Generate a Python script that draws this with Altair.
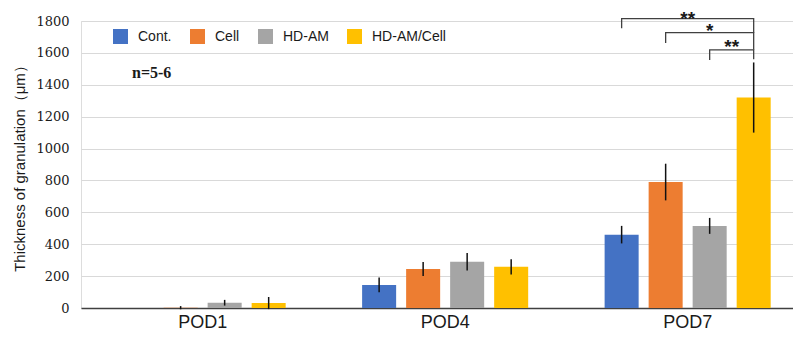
import altair as alt
import pandas as pd

pods = ["POD1", "POD4", "POD7"]
groups = ["Cont.", "Cell", "HD-AM", "HD-AM/Cell"]
colors = ["#4472C4", "#ED7D31", "#A5A5A5", "#FFC000"]

means_cont = [0, 145, 460]
means_cell = [2, 245, 790]
means_hdam = [33, 290, 515]
means_hdamcell = [31, 258, 1320]

err_cont = [0, 47, 55]
err_cell = [10, 44, 115]
err_hdam = [18, 55, 50]
err_hdamcell = [38, 48, 220]

y_ticks = [0, 200, 400, 600, 800, 1000, 1200, 1400, 1600, 1800]

# significance brackets (POD7), all ending at HD-AM/Cell
br_from = ["Cont.", "Cell", "HD-AM"]
br_to = "HD-AM/Cell"
br_top = [1815, 1727, 1619]
br_left_bottom = [1755, 1662, 1556]
br_right_bottom = [1727, 1619, 1560]
star_labels = ["**", "*", "**"]
star_y = [1775, 1700, 1600]

rows = []
for g, m, e in zip(groups, [means_cont, means_cell, means_hdam, means_hdamcell],
                   [err_cont, err_cell, err_hdam, err_hdamcell]):
    for p, mv, ev in zip(pods, m, e):
        rows.append({"pod": p, "group": g, "mean": mv, "lo": mv - ev, "hi": mv + ev})
df = pd.DataFrame(rows)

brows = []
for i, (g, t, lb, rb) in enumerate(zip(br_from, br_top, br_left_bottom, br_right_bottom)):
    brows += [
        {"id": i, "pod": "POD7", "group": g, "y": lb, "o": 0},
        {"id": i, "pod": "POD7", "group": g, "y": t, "o": 1},
        {"id": i, "pod": "POD7", "group": br_to, "y": t, "o": 2},
        {"id": i, "pod": "POD7", "group": br_to, "y": rb, "o": 3},
    ]
bdf = pd.DataFrame(brows)

xscale = alt.Scale(domain=pods, paddingInner=0.274, paddingOuter=0.105, align=0.66)
oscale = alt.Scale(domain=groups, paddingInner=0.227, paddingOuter=0.1135)
yscale = alt.Scale(domain=[0, 1800], nice=False)

X = alt.X("pod:N", scale=xscale, title=None,
          axis=alt.Axis(labelAngle=0, ticks=False, labelFontSize=18, labelPadding=5,
                        labelFont="Liberation Sans", labelColor="#1a1a1a",
                        domainColor="#404040", domainWidth=1.3, grid=False))
XO = alt.XOffset("group:N", scale=oscale, sort=groups)

ytitle = "Thickness of granulation（μm）"
yaxis = alt.Axis(values=y_ticks, ticks=False, domain=False,
                 labelOverlap=False, format="d",
                 gridColor="#D9D9D9", gridWidth=1.2, labelFont="DejaVu Serif",
                 labelFontSize=13, labelPadding=12, labelColor="#1a1a1a",
                 titleFont="Liberation Sans", titleFontSize=15, titleFontWeight="normal",
                 titleColor="#1a1a1a", titlePadding=8)


def Y(f):
    return alt.Y(f, scale=yscale, title=ytitle, axis=yaxis)


bars = alt.Chart(df).mark_bar().encode(
    x=X, xOffset=XO, y=Y("mean:Q"),
    color=alt.Color("group:N", scale=alt.Scale(domain=groups, range=colors), sort=groups,
                    legend=alt.Legend(title=None, orient="none", direction="horizontal",
                                      legendX=32, legendY=8, symbolType="square",
                                      symbolSize=225, symbolStrokeWidth=0, symbolOpacity=1,
                                      labelFont="Liberation Sans", labelFontSize=14,
                                      labelColor="#1a1a1a", labelOffset=10,
                                      columnPadding=18, padding=0)),
)

errbars = alt.Chart(df).mark_rule(color="#111111", strokeWidth=1.5).encode(
    x=X, xOffset=XO, y=Y("lo:Q"), y2="hi:Q"
)

brackets = alt.Chart(bdf).mark_line(color="#404040", strokeWidth=1.3).encode(
    x=X, xOffset=XO, y=Y("y:Q"), detail="id:N", order="o:Q"
)

sdf = pd.DataFrame({"pod": ["POD7"] * 3, "label": star_labels, "y": star_y,
                    "group": ["HD-AM", "HD-AM", "HD-AM/Cell"], "k": [0, 1, 2]})
star_font = dict(font="Liberation Sans", fontSize=19, fontWeight="bold", color="#1a1a1a",
                 baseline="alphabetic", align="center")
star1 = alt.Chart(sdf[sdf.k == 0]).mark_text(**star_font).encode(
    x=X, y=Y("y:Q"), text="label:N")
star2 = alt.Chart(sdf[sdf.k == 1]).mark_text(**star_font).encode(
    x=X, xOffset=XO, y=Y("y:Q"), text="label:N")
star3 = alt.Chart(sdf[sdf.k == 2]).mark_text(dx=-22, **star_font).encode(
    x=X, xOffset=XO, y=Y("y:Q"), text="label:N")

note = alt.Chart(pd.DataFrame({"t": ["n=5-6"]})).mark_text(
    font="Liberation Serif", fontSize=16, fontWeight="bold", color="#1a1a1a",
    align="left", baseline="middle").encode(x=alt.value(51), y=alt.value(52), text="t:N")

chart = alt.layer(bars, errbars, brackets, star1, star2, star3, note).properties(
    width=712, height=287,
    autosize=alt.AutoSizeParams(type="none"),
    padding={"left": 73, "top": 13, "right": 0, "bottom": 26},
).configure_view(stroke=None).configure(background="white")

chart.save("out.html", embed_options={"renderer": "svg", "actions": False})
